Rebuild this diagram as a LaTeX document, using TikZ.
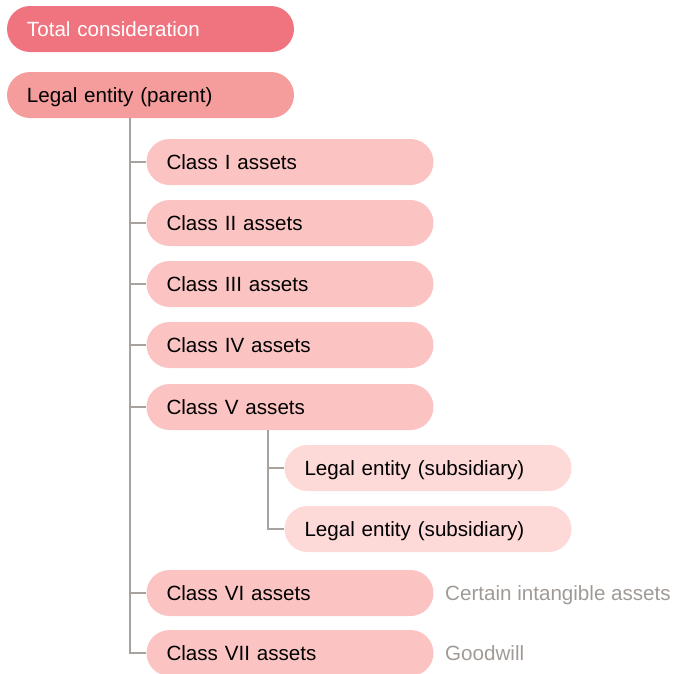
\documentclass[tikz,border=0pt]{standalone}
\usepackage{fontspec}
\setmainfont{Liberation Sans}
\definecolor{topc}{HTML}{F07480}
\definecolor{parc}{HTML}{F59C9C}
\definecolor{clsc}{HTML}{FBC4C2}
\definecolor{subc}{HTML}{FDD9D8}
\definecolor{linec}{HTML}{A8A29E}
\definecolor{notec}{HTML}{A09A96}
\begin{document}
\begin{tikzpicture}[x=1pt,y=-1pt,
  pill/.style={rectangle, rounded corners=23pt, minimum height=46pt,
    text width=247pt, inner xsep=20pt, inner ysep=0pt, align=left,
    text height=15.5pt, text depth=0.5pt,
    font=\fontsize{20.6}{24}\selectfont, draw=none, text=black},
  note/.style={anchor=west, inner sep=0pt, text height=15.5pt, text depth=0.5pt,
    text=notec, font=\fontsize{20.6}{24}\selectfont},
  conn/.style={draw=linec, line width=1.6pt}]
\useasboundingbox (0,0) rectangle (681,673);
\node[pill, fill=topc, text=white] (total) at (150.5,29) {Total consideration};
\node[pill, fill=parc] (parent) at (150.5,95) {Legal entity (parent)};
\node[pill, fill=clsc] (c1) at (290,162) {Class I assets};
\node[pill, fill=clsc] (c2) at (290,223) {Class II assets};
\node[pill, fill=clsc] (c3) at (290,284) {Class III assets};
\node[pill, fill=clsc] (c4) at (290,345) {Class IV assets};
\node[pill, fill=clsc] (c5) at (290,407) {Class V assets};
\node[pill, fill=subc] (s1) at (428,468) {Legal entity (subsidiary)};
\node[pill, fill=subc] (s2) at (428,529) {Legal entity (subsidiary)};
\node[pill, fill=clsc] (c6) at (290,593) {Class VI assets};
\node[pill, fill=clsc] (c7) at (290,653) {Class VII assets};
\node[note] (n6) at (445,593) {Certain intangible assets};
\node[note] (n7) at (445,653) {Goodwill};
\foreach \c in {c1,c2,c3,c4,c5,c6,c7}
  \draw[conn] ([xshift=-20.5pt]parent.south) |- (\c.west);
\foreach \s in {s1,s2}
  \draw[conn] ([xshift=-22pt]c5.south) |- (\s.west);
\end{tikzpicture}
\end{document}
